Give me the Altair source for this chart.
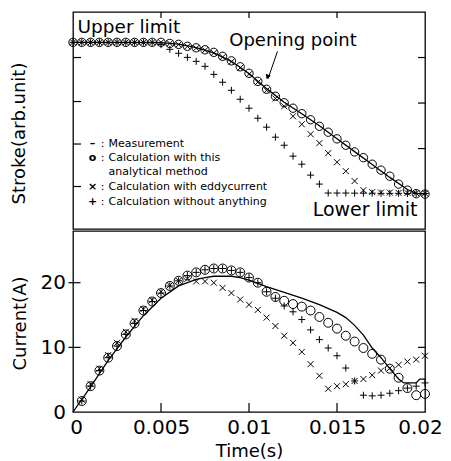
import altair as alt
import pandas as pd

# ---------------- data ----------------
# Upper panel: stroke (arb. unit), lower limit = 0, upper limit = 10
T_STROKE = [0.0, 0.0005, 0.001, 0.0015, 0.002, 0.0025, 0.003, 0.0035, 0.004, 0.0045,
            0.005, 0.0055, 0.006, 0.0065, 0.007, 0.0075, 0.008, 0.0085, 0.009, 0.0095,
            0.010, 0.0105, 0.011, 0.0115, 0.012, 0.0125, 0.013, 0.0135, 0.014, 0.0145,
            0.015, 0.0155, 0.016, 0.0165, 0.017, 0.0175, 0.018, 0.0185, 0.019, 0.0195, 0.020]
STROKE_ANALYTIC = [10, 10, 10, 10, 10, 10, 10, 10, 10, 10,
                   10, 9.93, 9.87, 9.74, 9.64, 9.51, 9.34, 9.08, 8.78, 8.39,
                   7.96, 7.43, 6.91, 6.45, 6.02, 5.66, 5.30, 4.90, 4.47, 4.08,
                   3.64, 3.22, 2.78, 2.40, 1.97, 1.58, 1.18, 0.66, 0.26, 0.03, 0.0]
STROKE_EDDY = [10, 10, 10, 10, 10, 10, 10, 10, 10, 10,
               10, 9.93, 9.86, 9.73, 9.62, 9.48, 9.30, 9.03, 8.72, 8.32,
               7.90, 7.37, 6.84, 6.30, 5.79, 5.13, 4.60, 3.95, 3.36, 2.70,
               2.10, 1.51, 0.86, 0.26, 0.13, 0.10, 0.10, 0.08, 0.08, 0.06, 0.05]
STROKE_NONE = [10, 10, 10, 10, 10, 10, 10, 10, 10, 10,
               9.85, 9.54, 9.28, 9.01, 8.75, 8.42, 7.89, 7.37, 6.84, 6.25,
               5.66, 5.00, 4.41, 3.75, 3.22, 2.50, 1.97, 1.25, 0.66, 0.07,
               0.07, 0.07, 0.06, 0.06, 0.06, 0.05, 0.05, 0.05, 0.04, 0.04, 0.04]
T_STROKE_MEAS = [0.0, 0.005, 0.006, 0.007, 0.008, 0.009, 0.010, 0.011, 0.012, 0.013,
                 0.014, 0.015, 0.016, 0.017, 0.018, 0.019, 0.0195, 0.020]
STROKE_MEAS = [10, 9.98, 9.88, 9.66, 9.30, 8.75, 7.95, 6.95, 6.05, 5.30,
               4.50, 3.65, 2.80, 1.95, 1.10, 0.30, 0.05, 0.0]

# Lower panel: current (A)
T_CURRENT = [0.0005, 0.001, 0.0015, 0.002, 0.0025, 0.003, 0.0035, 0.004, 0.0045, 0.005,
             0.0055, 0.006, 0.0065, 0.007, 0.0075, 0.008, 0.0085, 0.009, 0.0095, 0.010,
             0.0105, 0.011, 0.0115, 0.012, 0.0125, 0.013, 0.0135, 0.014, 0.0145, 0.015,
             0.0155, 0.016, 0.0165, 0.017, 0.0175, 0.018, 0.0185, 0.019, 0.0195, 0.020]
CURRENT_ANALYTIC = [1.7, 4.0, 6.4, 8.4, 10.2, 12.0, 13.7, 15.7, 17.1, 18.4,
                    19.5, 20.3, 21.1, 21.6, 22.0, 22.2, 22.2, 21.9, 21.6, 20.8,
                    20.0, 18.6, 17.8, 17.2, 16.7, 16.3, 15.7, 14.7, 13.8, 12.9,
                    11.8, 10.9, 9.9, 9.0, 8.1, 6.7, 5.3, 3.7, 2.6, 2.8]
CURRENT_EDDY = [1.9, 4.3, 6.7, 8.8, 10.7, 12.4, 14.1, 15.9, 17.3, 18.6,
                19.6, 20.3, 20.6, 20.2, 20.2, 20.0, 19.2, 18.4, 17.4, 16.6,
                15.8, 14.6, 13.3, 11.8, 10.7, 9.3, 7.4, 5.6, 3.6, 4.0,
                4.3, 4.8, 5.1, 5.7, 6.4, 6.8, 7.3, 7.8, 8.1, 8.7]
CURRENT_NONE = [1.7, 4.0, 6.4, 8.4, 10.2, 12.0, 13.7, 15.7, 17.1, 18.4,
                19.5, 20.3, 21.1, 21.6, 22.0, 22.2, 22.2, 21.9, 21.6, 20.8,
                20.0, 18.6, 17.6, 16.4, 15.5, 14.3, 12.7, 11.2, 9.9, 8.7,
                6.8, 4.8, 2.6, 2.5, 2.6, 2.9, 3.3, 3.7, 4.0, 4.5]
T_CURRENT_MEAS = [0.0, 0.001, 0.002, 0.003, 0.004, 0.005, 0.006, 0.007, 0.0075, 0.008,
                  0.009, 0.0095, 0.010, 0.011, 0.012, 0.013, 0.014, 0.015, 0.0155, 0.016,
                  0.0165, 0.017, 0.0175, 0.018, 0.0185, 0.0188, 0.0195, 0.0197, 0.020]
CURRENT_MEAS = [0.0, 3.9, 8.0, 11.6, 14.9, 17.6, 19.5, 20.5, 20.8, 21.0,
                21.0, 20.8, 20.4, 19.4, 18.5, 17.6, 16.6, 15.4, 14.6, 13.4,
                11.9, 9.9, 8.4, 6.7, 5.1, 4.5, 4.5, 5.1, 5.1]

# legend rows (symbol, text) and their anchor (time, stroke) in the upper panel
LEGEND_SYMBOLS = ["–", "o", "", "×", "+"]
LEGEND_COLONS = [":", ":", "", ":", ":"]
LEGEND_TEXTS = ["Measurement", "Calculation with this", "analytical method",
                "Calculation with eddycurrent", "Calculation without anything"]
LEGEND_S = [3.29, 2.37, 1.45, 0.46, -0.53]
LEGEND_T_SYM = 0.00111
LEGEND_T_COLON = 0.00168
LEGEND_T_TEXT = 0.00202

X_TICKS = [0.005, 0.01, 0.015]
X_LABELS = [0, 0.005, 0.01, 0.015, 0.02]
STROKE_TICKS_LEFT = [9, 6.1, 3.3, 0.5]
STROKE_TICKS_RIGHT = [9, 6, 3]
CURRENT_TICKS = [10, 20]
CURRENT_LABELS = [0, 10, 20]

X_DOMAIN = [0, 0.02]
S_DOMAIN = [-2.3, 12]
C_DOMAIN = [0, 28]
W = 352
H_UP = 217
H_LO = 181
FONT = "DejaVu Sans"

PLUS = "M-1,0L1,0M0,-1L0,1"
CROSS = "M-1,-1L1,1M-1,1L1,-1"

# ---------------- data frames ----------------
up_calc = pd.DataFrame({"t": T_STROKE, "an": STROKE_ANALYTIC,
                        "ed": STROKE_EDDY, "no": STROKE_NONE})
up_meas = pd.DataFrame({"t": T_STROKE_MEAS, "s": STROKE_MEAS})
lo_calc = pd.DataFrame({"t": T_CURRENT, "an": CURRENT_ANALYTIC,
                        "ed": CURRENT_EDDY, "no": CURRENT_NONE})
lo_meas = pd.DataFrame({"t": T_CURRENT_MEAS, "c": CURRENT_MEAS})
legend_df = pd.DataFrame({"sym": LEGEND_SYMBOLS, "colon": LEGEND_COLONS,
                          "txt": LEGEND_TEXTS, "s": LEGEND_S,
                          "ts": [LEGEND_T_SYM] * 5, "tc": [LEGEND_T_COLON] * 5,
                          "tt": [LEGEND_T_TEXT] * 5})

xs = alt.Scale(domain=X_DOMAIN, nice=False, zero=False)
ys_up = alt.Scale(domain=S_DOMAIN, nice=False, zero=False)
ys_lo = alt.Scale(domain=C_DOMAIN, nice=False, zero=False)


def X(field):
    return alt.X(field, type="quantitative", scale=xs, axis=None)


def XL(field):
    return alt.X(field, type="quantitative", scale=xs)


def YU(field):
    return alt.Y(field, type="quantitative", scale=ys_up)


def YL(field):
    return alt.Y(field, type="quantitative", scale=ys_lo)


def one(**kw):
    return pd.DataFrame({k: [v] for k, v in kw.items()})


# ---------------- upper panel ----------------
y_up_axis = alt.Axis(title="Stroke(arb.unit)", labels=False, ticks=False, domain=False,
                     grid=False, titleX=-44.5, titleY=121, titleFontSize=18,
                     titleFontWeight="normal", titleColor="black")

up_line = alt.Chart(up_meas).mark_line(color="black", strokeWidth=1.3).encode(
    x=X("t"), y=alt.Y("s:Q", scale=ys_up, axis=y_up_axis))
up_an = alt.Chart(up_calc).mark_point(shape="circle", filled=False, size=70,
                                       color="black", strokeWidth=1, opacity=1).encode(
    x=X("t"), y=YU("an"))
up_ed = alt.Chart(up_calc).mark_point(shape=CROSS, filled=False, size=36,
                                       color="black", strokeWidth=1, opacity=1).encode(
    x=X("t"), y=YU("ed"))
up_no = alt.Chart(up_calc).mark_point(shape=PLUS, filled=False, size=49,
                                       color="black", strokeWidth=1, opacity=1).encode(
    x=X("t"), y=YU("no"))

txt_upper = alt.Chart(one(t=0.00026, s=10.59, label="Upper limit")).mark_text(
    fontSize=18.5, align="left", baseline="alphabetic", color="black").encode(
    x=X("t"), y=YU("s"), text="label:N")
txt_open = alt.Chart(one(t=0.0125, s=9.74, label="Opening point")).mark_text(
    fontSize=18, align="center", baseline="alphabetic", color="black").encode(
    x=X("t"), y=YU("s"), text="label:N")
txt_lower = alt.Chart(one(t=0.01957, s=-1.45, label="Lower limit")).mark_text(
    fontSize=19, align="right", baseline="alphabetic", color="black").encode(
    x=X("t"), y=YU("s"), text="label:N")
arrow_line = alt.Chart(one(t=0.01162, s=9.41, t2=0.01108, s2=7.6)).mark_rule(
    color="black", strokeWidth=1).encode(
    x=X("t"), y=YU("s"), x2="t2:Q", y2="s2:Q")
arrow_head = alt.Chart(one(t=0.01105, s=7.72)).mark_point(
    shape="triangle-down", filled=True, size=30, angle=20, color="black", opacity=1).encode(
    x=X("t"), y=YU("s"))

leg_sym = alt.Chart(legend_df).mark_text(fontSize=11, fontWeight="bold", align="center",
                                          baseline="middle", color="black").encode(
    x=X("ts"), y=YU("s"), text="sym:N")
leg_colon = alt.Chart(legend_df).mark_text(fontSize=11, align="center",
                                            baseline="middle", color="black").encode(
    x=X("tc"), y=YU("s"), text="colon:N")
leg_txt = alt.Chart(legend_df).mark_text(fontSize=11, align="left",
                                          baseline="middle", color="black").encode(
    x=X("tt"), y=YU("s"), text="txt:N")

# inward ticks of the upper frame
up_top_ticks = alt.Chart(pd.DataFrame({"t": X_TICKS, "s": [S_DOMAIN[1]] * 3})).mark_tick(
    orient="vertical", size=6, thickness=1.2, yOffset=3, color="black", opacity=1).encode(
    x=X("t"), y=YU("s"))
up_left_ticks = alt.Chart(pd.DataFrame({"t": [X_DOMAIN[0]] * 4,
                                        "s": STROKE_TICKS_LEFT})).mark_tick(
    orient="horizontal", size=8, thickness=1.2, xOffset=4, color="black", opacity=1).encode(
    x=X("t"), y=YU("s"))
up_right_ticks = alt.Chart(pd.DataFrame({"t": [X_DOMAIN[1]] * 3,
                                         "s": STROKE_TICKS_RIGHT})).mark_tick(
    orient="horizontal", size=7, thickness=1.2, xOffset=-3.5, color="black", opacity=1).encode(
    x=X("t"), y=YU("s"))

upper = alt.layer(up_line, up_an, up_ed, up_no, txt_upper, txt_open, txt_lower,
                  arrow_line, arrow_head, leg_sym, leg_colon, leg_txt,
                  up_top_ticks, up_left_ticks, up_right_ticks).properties(
    width=W, height=H_UP)

# ---------------- lower panel ----------------
label_offset = {"condition": [{"test": "datum.value >= 0.019", "value": -5},
                              {"test": "datum.value <= 0.0001", "value": 3}],
                "value": 0}
x_lo_axis = alt.Axis(title="Time(s)", values=X_LABELS, format=".3~f",
                     labelFontSize=20, labelPadding=21, labelBaseline="alphabetic",
                     labelOffset=label_offset,
                     labelFlush=False, ticks=False, tickSize=0, domain=False, grid=False,
                     labelColor="black", labelOverlap=False, titleFontSize=18,
                     titleFontWeight="normal", titleColor="black", titleX=176, titleY=44,
                     titleBaseline="alphabetic")
y_lo_axis = alt.Axis(title="Current(A)", values=CURRENT_LABELS, labelFontSize=20,
                     labelPadding=7.5, labelFlush=False, ticks=False, tickSize=0,
                     domain=False, grid=False, labelColor="black", labelBaseline="middle",
                     titleFontSize=18, titleFontWeight="normal", titleColor="black",
                     titleX=-44, titleY=92)

lo_line = alt.Chart(lo_meas).mark_line(color="black", strokeWidth=1.3).encode(
    x=alt.X("t:Q", scale=xs, axis=x_lo_axis), y=alt.Y("c:Q", scale=ys_lo, axis=y_lo_axis))
lo_an = alt.Chart(lo_calc).mark_point(shape="circle", filled=False, size=80,
                                       color="black", strokeWidth=1, opacity=1).encode(
    x=XL("t"), y=YL("an"))
lo_ed = alt.Chart(lo_calc).mark_point(shape=CROSS, filled=False, size=36,
                                       color="black", strokeWidth=1, opacity=1).encode(
    x=XL("t"), y=YL("ed"))
lo_no = alt.Chart(lo_calc).mark_point(shape=PLUS, filled=False, size=49,
                                       color="black", strokeWidth=1, opacity=1).encode(
    x=XL("t"), y=YL("no"))

lo_bottom_ticks = alt.Chart(pd.DataFrame({"t": X_TICKS, "c": [C_DOMAIN[0]] * 3})).mark_tick(
    orient="vertical", size=9, thickness=1.2, yOffset=-4.5, color="black", opacity=1).encode(
    x=XL("t"), y=YL("c"))
lo_left_ticks = alt.Chart(pd.DataFrame({"t": [X_DOMAIN[0]] * 2, "c": CURRENT_TICKS})).mark_tick(
    orient="horizontal", size=12, thickness=1.2, xOffset=1.5, color="black", opacity=1).encode(
    x=XL("t"), y=YL("c"))
lo_right_ticks = alt.Chart(pd.DataFrame({"t": [X_DOMAIN[1]] * 2, "c": CURRENT_TICKS})).mark_tick(
    orient="horizontal", size=7, thickness=1.2, xOffset=-3.5, color="black", opacity=1).encode(
    x=XL("t"), y=YL("c"))

lower = alt.layer(lo_line, lo_an, lo_ed, lo_no, lo_bottom_ticks, lo_left_ticks,
                  lo_right_ticks).properties(width=W, height=H_LO)

chart = alt.vconcat(upper, lower, spacing=0).properties(
    padding={"left": 1, "top": 3, "right": 0, "bottom": 0}
).configure(font=FONT, background="white").configure_view(
    stroke="black", strokeWidth=1.3
).configure_axis(titleFontWeight="normal", labelFlush=False)

chart.save("out.html", embed_options={"renderer": "svg", "actions": False})
